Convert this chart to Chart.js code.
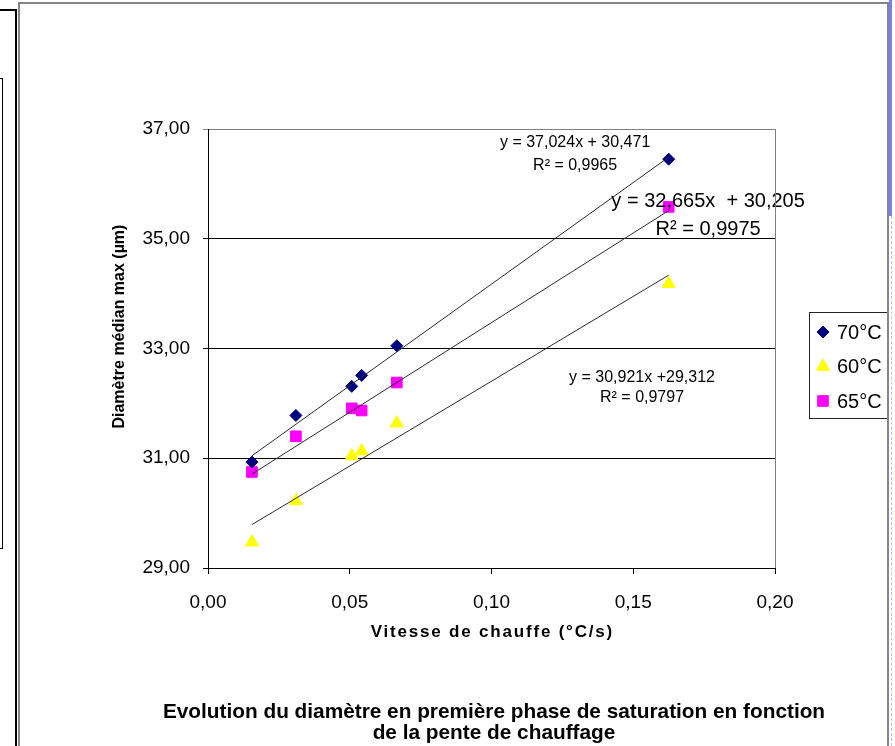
<!DOCTYPE html>
<html>
<head>
<meta charset="utf-8">
<title>Evolution du diamètre</title>
<script src="https://cdn.jsdelivr.net/npm/chart.js@4.4.0/dist/chart.umd.min.js"></script>
<style>
  html, body { margin: 0; padding: 0; background: #fff; }
  body { width: 895px; height: 746px; position: relative; overflow: hidden; }
  #chart { position: absolute; left: 0; top: 0; }
  .deco { position: absolute; box-sizing: border-box; pointer-events: none; }
  #blackFrame { left: -10px; top: 9px; width: 27px; height: 800px; border: 2px solid #000; }
  #smallBox { left: -10px; top: 78px; width: 13px; height: 471px; border: 1.5px solid #000; }
  #grayFrame { left: 18px; top: 2px; width: 871px; height: 800px; border: 2px solid #858585; }
  #blueStrip { left: 889px; top: 0; width: 3px; height: 216px; background: #7083e6; }
  #blueDash { left: 891px; top: 216px; width: 1px; height: 530px; border-left: 1px dashed #b7c2f0; }
</style>
</head>
<body>
<canvas id="chart" width="895" height="746"></canvas>
<div class="deco" id="blackFrame"></div>
<div class="deco" id="smallBox"></div>
<div class="deco" id="grayFrame"></div>
<div class="deco" id="blueStrip"></div>
<div class="deco" id="blueDash"></div>

<script>
// Data
const vitesses = [0.0155, 0.031, 0.0507, 0.0542, 0.0666, 0.1625];
const serie70 = [30.93, 31.78, 32.31, 32.51, 33.05, 36.45];
const serie60 = [29.47, 30.22, 31.04, 31.13, 31.64, 34.18];
const serie65 = [30.75, 31.40, 31.91, 31.87, 32.38, 35.58];
const seriesNames = ['70°C', '60°C', '65°C'];

// Trendlines (Excel linear fits, as printed on the chart)
const trendSlopes = [37.024, 30.921, 32.665];
const trendIntercepts = [30.471, 29.312, 30.205];
const trendTexts = [
    ['y = 37,024x + 30,471', 'R² = 0,9965'],
    ['y = 30,921x +29,312', 'R² = 0,9797'],
    ['y = 32,665x  + 30,205', 'R² = 0,9975']
];

const yTicks = [29, 31, 33, 35, 37];
const xTitle = 'Vitesse de chauffe (°C/s)';
const yTitle = 'Diamètre médian max (µm)';
const captionLines = [
    'Evolution du diamètre en première phase de saturation en fonction',
    'de la pente de chauffage'
];

const FONT = 'Liberation Sans, Arial, sans-serif';
Chart.defaults.font.family = FONT;
Chart.defaults.color = '#000';

function frNumber(v) {
    return Number(v).toFixed(2).replace('.', ',');
}

function points(ys) {
    return vitesses.map((x, i) => ({ x: x, y: ys[i] }));
}

function trendPoints(i) {
    const x0 = vitesses[0];
    const x1 = vitesses[vitesses.length - 1];
    return [
        { x: x0, y: trendSlopes[i] * x0 + trendIntercepts[i] },
        { x: x1, y: trendSlopes[i] * x1 + trendIntercepts[i] }
    ];
}

// Where the equation labels sit (data units) and how big they are
const trendLabelStyle = [
    { x: 0.1295, y: 36.535, size: 16, gap: 23 },
    { x: 0.1531, y: 32.28, size: 16, gap: 20 },
    { x: 0.1764, y: 35.433, size: 20, gap: 28 }
];

const markerStyle = [
    { pointStyle: 'rectRot', radius: 6, color: '#000080' },
    { pointStyle: 'triangle', radius: 7.5, color: '#FFFF00' },
    { pointStyle: 'rect', radius: 7.5, color: '#FF00FF' }
];

const seriesData = [serie70, serie60, serie65];

const datasets = [];
seriesData.forEach((ys, i) => {
    datasets.push({
        label: seriesNames[i],
        data: points(ys),
        pointStyle: markerStyle[i].pointStyle,
        pointRadius: markerStyle[i].radius,
        pointHoverRadius: markerStyle[i].radius,
        backgroundColor: markerStyle[i].color,
        borderColor: markerStyle[i].color,
        pointBorderWidth: 1,
        showLine: false,
        order: 2
    });
});
seriesData.forEach((ys, i) => {
    datasets.push({
        label: 'trend ' + seriesNames[i],
        data: trendPoints(i),
        showLine: true,
        fill: false,
        pointRadius: 0,
        borderColor: '#2a2a2a',
        borderWidth: 1,
        isTrend: true,
        order: 1
    });
});

// Gray border on the right side of the plot area
const plotBorder = {
    id: 'plotBorder',
    afterDraw(chart) {
        const { ctx, chartArea } = chart;
        ctx.save();
        ctx.strokeStyle = '#808080';
        ctx.lineWidth = 1;
        const x = Math.round(chartArea.right) + 0.5;
        ctx.beginPath();
        ctx.moveTo(x, chartArea.top);
        ctx.lineTo(x, chartArea.bottom);
        ctx.stroke();
        ctx.restore();
    }
};

// Axis titles: the x one is letter spaced, the y one sits a bit above centre
const axisTitles = {
    id: 'axisTitles',
    afterDraw(chart) {
        const { ctx, chartArea, scales } = chart;
        ctx.save();
        ctx.fillStyle = '#000';
        ctx.textAlign = 'center';
        ctx.textBaseline = 'middle';
        ctx.font = 'bold 17px ' + FONT;
        ctx.letterSpacing = '1.8px';
        ctx.fillText(xTitle, (chartArea.left + chartArea.right) / 2 + 0.9, chartArea.bottom + 64);
        ctx.letterSpacing = '0px';
        ctx.font = 'bold 16px ' + FONT;
        ctx.translate(chartArea.left - 88.5, scales.y.getPixelForValue(33.4));
        ctx.rotate(-Math.PI / 2);
        ctx.fillText(yTitle, 0, 0);
        ctx.restore();
    }
};

// Equation + R² labels next to each trendline
const trendLabels = {
    id: 'trendLabels',
    afterDatasetsDraw(chart) {
        const { ctx, scales } = chart;
        ctx.save();
        ctx.fillStyle = '#000';
        ctx.textAlign = 'center';
        ctx.textBaseline = 'middle';
        trendTexts.forEach((lines, i) => {
            const st = trendLabelStyle[i];
            const cx = scales.x.getPixelForValue(st.x);
            const cy = scales.y.getPixelForValue(st.y);
            ctx.font = st.size + 'px ' + FONT;
            lines.forEach((txt, k) => {
                ctx.fillText(txt, cx, cy + (k - (lines.length - 1) / 2) * st.gap);
            });
        });
        ctx.restore();
    }
};

// Boxed legend to the right of the plot
const boxLegend = {
    id: 'boxLegend',
    afterDraw(chart) {
        const { ctx } = chart;
        const box = { left: 809, top: 312, width: 78, height: 106 };
        ctx.save();
        ctx.strokeStyle = '#222';
        ctx.lineWidth = 1;
        ctx.strokeRect(box.left + 0.5, box.top + 0.5, box.width, box.height);
        ctx.font = '20px ' + FONT;
        ctx.textBaseline = 'middle';
        ctx.textAlign = 'left';
        chart.data.datasets.filter(d => !d.isTrend).forEach((ds, i) => {
            const y = box.top + 20 + i * 34.5;
            ctx.fillStyle = ds.backgroundColor;
            ctx.strokeStyle = ds.borderColor;
            Chart.helpers.drawPoint(ctx, {
                pointStyle: ds.pointStyle,
                rotation: 0,
                radius: ds.pointRadius,
                borderWidth: 1
            }, box.left + 14, y);
            ctx.fillStyle = '#000';
            ctx.fillText(ds.label, box.left + 28, y + 1);
        });
        ctx.restore();
    }
};

new Chart(document.getElementById('chart'), {
    type: 'scatter',
    data: { datasets: datasets },
    options: {
        responsive: false,
        animation: false,
        layout: { padding: { top: 129, right: 0, bottom: 2.5, left: 93 } },
        plugins: {
            legend: { display: false },
            tooltip: { enabled: false },
            title: {
                display: true,
                position: 'bottom',
                text: captionLines,
                color: '#000',
                padding: 0,
                font: { size: 20.8, weight: 'bold', lineHeight: '21px' }
            }
        },
        scales: {
            x: {
                type: 'linear',
                min: 0,
                max: 0.2,
                ticks: {
                    stepSize: 0.05,
                    padding: 17.5,
                    color: '#000',
                    font: { size: 19 },
                    callback: v => frNumber(v)
                },
                grid: { drawOnChartArea: false, tickLength: 6, color: '#000' },
                border: { color: '#000', width: 1 },
                afterFit: s => { s.height = 133.5; }
            },
            y: {
                min: 29,
                max: 37,
                afterBuildTicks: s => { s.ticks = yTicks.map(v => ({ value: v })); },
                ticks: {
                    padding: 13,
                    color: '#000',
                    font: { size: 19 },
                    callback: v => frNumber(v)
                },
                grid: {
                    tickLength: 5,
                    lineWidth: 1,
                    color: c => (c.tick && c.tick.value === 37) ? '#808080' : '#000'
                },
                border: { color: '#000', width: 1 },
                afterFit: s => { s.width = 115; }
            },
            // empty axis that keeps room for the legend on the right
            legendSpace: {
                type: 'linear',
                axis: 'y',
                position: 'right',
                ticks: { display: false },
                grid: { display: false },
                border: { display: false },
                afterFit: s => { s.width = 120; }
            }
        }
    },
    plugins: [plotBorder, axisTitles, trendLabels, boxLegend]
});
</script>
</body>
</html>
